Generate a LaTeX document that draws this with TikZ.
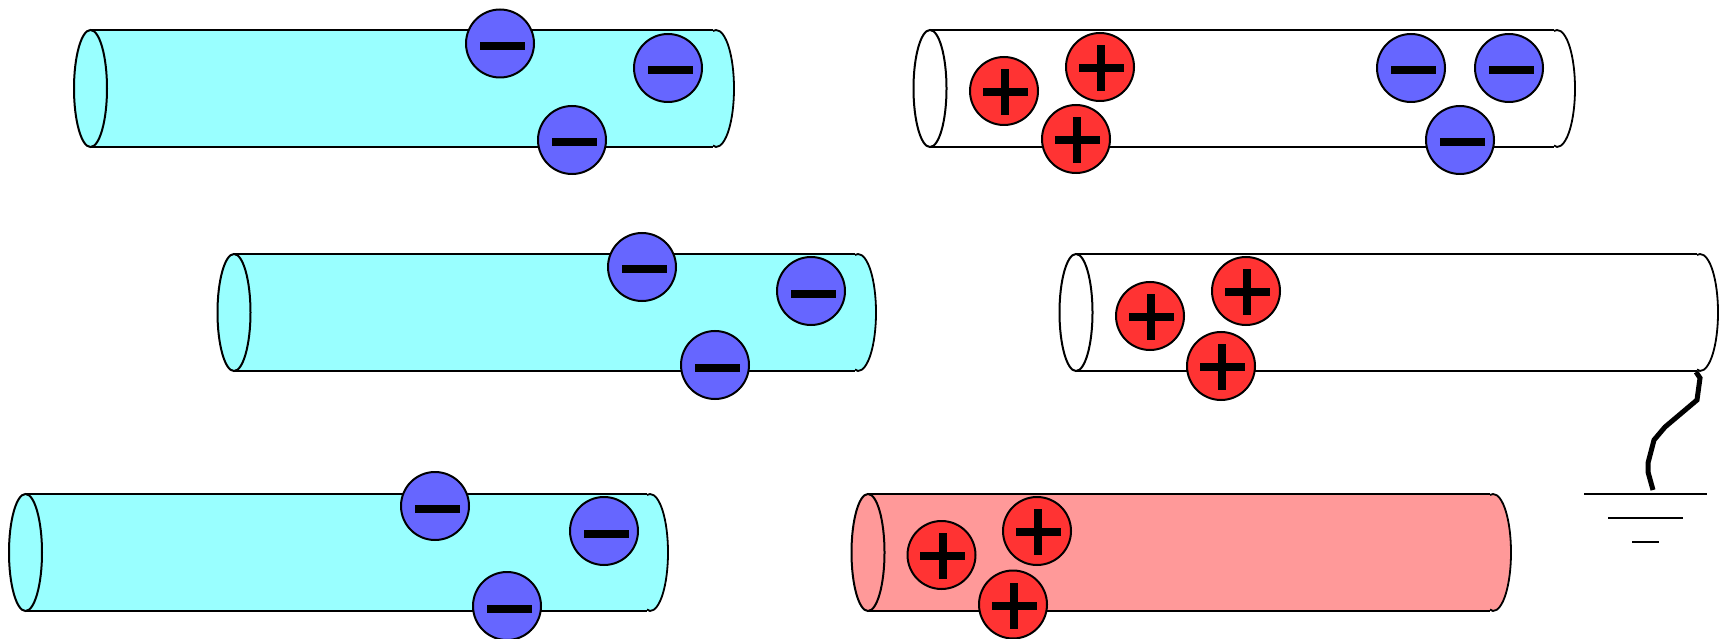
\documentclass[tikz,border=0pt]{standalone}
\definecolor{tubecyan}{HTML}{99FFFF}
\definecolor{tubepink}{HTML}{FF9999}
\definecolor{chargeblue}{HTML}{6666FF}
\definecolor{chargered}{HTML}{FF3333}
\tikzset{
  outline/.style={draw=black,line width=2pt},
  groundbar/.style={draw=black,line width=2.4pt},
  wire/.style={draw=black,line width=5pt,line join=miter},
  negcharge/.style={circle,draw=black,line width=2pt,fill=chargeblue,minimum size=68pt,inner sep=0pt},
  poscharge/.style={circle,draw=black,line width=2pt,fill=chargered,minimum size=68pt,inner sep=0pt},
  signbar/.style={fill=black,draw=none,inner sep=0pt,minimum width=45pt,minimum height=8pt},
  signpost/.style={fill=black,draw=none,inner sep=0pt,minimum width=8pt,minimum height=46pt},
}
% A tube: name, centre of the left end, top edge, centre of the right end, fill colour
\newcommand{\tube}[5]{%
  \fill[#5] (#2,#3) -- (#4,#3)
    .. controls ({#4+10},#3) and ({#4+18},{#3+26}) .. ({#4+18},{#3+58.5})
    .. controls ({#4+18},{#3+91}) and ({#4+10},{#3+117}) .. (#4,{#3+117})
    -- (#2,{#3+117}) -- cycle;
  \coordinate (#1tr) at ({#4-3},#3);
  \coordinate (#1br) at ({#4-3},{#3+117});
  \coordinate (#1tl) at (#2,#3);
  \coordinate (#1bl) at (#2,{#3+117});
  \draw[outline] (#1tl) -- (#1tr);
  \draw[outline] (#1bl) -- (#1br);
  \draw[outline,line width=1.8pt] (#1tr) ++(0,1) .. controls ({#4-2},#3) and ({#4-1},#3) .. (#4,#3)
    .. controls ({#4+10},#3) and ({#4+18},{#3+26}) .. ({#4+18},{#3+58.5})
    .. controls ({#4+18},{#3+91}) and ({#4+10},{#3+117}) .. (#4,{#3+117})
    .. controls ({#4-1},{#3+117}) and ({#4-2},{#3+116.5}) .. ({#4-3},{#3+115.5});
  \draw[outline,fill=#5] (#2,{#3+58.5}) ellipse [x radius=16.5,y radius=58.5];
}
% Charges: name, centre
\newcommand{\negative}[3]{%
  \node[negcharge] (#1) at (#2,#3) {};
  \node[signbar] (#1s) at ({#2+2.5},{#3+2.5}) {};
}
\newcommand{\positive}[3]{%
  \node[poscharge] (#1) at (#2,#3) {};
  \node[signbar] (#1h) at ({#2+1.2},{#3+1}) {};
  \node[signpost] (#1v) at ({#2+1.2},{#3+1}) {};
}
\begin{document}
\begin{tikzpicture}[x=1pt,y=-1pt]
\useasboundingbox (0,0) rectangle (1722,639);

% left column: tubes with negative charge
\tube{a}{90.5}{30}{716}{tubecyan}
\negative{a1}{500}{43.5}
\negative{a2}{668}{68}
\negative{a3}{572}{140}

\tube{b}{234}{254}{858}{tubecyan}
\negative{b1}{642}{267}
\negative{b2}{811}{291}
\negative{b3}{715}{365}

\tube{c}{25.5}{494}{650}{tubecyan}
\negative{c1}{435}{506}
\negative{c2}{604}{531}
\negative{c3}{507}{606}

% right column: mixed charge, grounded, positively charged
\tube{d}{930}{30}{1557}{white}
\positive{d1}{1004}{91}
\positive{d2}{1100}{67}
\positive{d3}{1076}{139}
\negative{d4}{1411}{68}
\negative{d5}{1509}{68}
\negative{d6}{1460}{140}

\tube{e}{1076}{254}{1700}{white}
\positive{e1}{1150}{316}
\positive{e2}{1246}{291}
\positive{e3}{1221}{366}

\tube{f}{868}{494}{1493}{tubepink}
\positive{f1}{941.5}{555}
\positive{f2}{1037}{531}
\positive{f3}{1013}{604.5}

% earth symbol and its wire
\coordinate (g1l) at (1584,494); \coordinate (g1r) at (1707,494);
\coordinate (g2l) at (1608,518); \coordinate (g2r) at (1683,518);
\coordinate (g3l) at (1632,542); \coordinate (g3r) at (1659,542);
\draw[groundbar] (g1l) -- (g1r);
\draw[groundbar] (g2l) -- (g2r);
\draw[groundbar] (g3l) -- (g3r);
\coordinate (wiretop) at (1696,372);
\coordinate (wirefoot) at (1653,490);
\draw[wire] (wiretop) -- (1700,378) -- (1697,400) -- (1665,427) -- (1654,440)
  -- (1648,463) -- (1648,472) -- (wirefoot);
\end{tikzpicture}
\end{document}
